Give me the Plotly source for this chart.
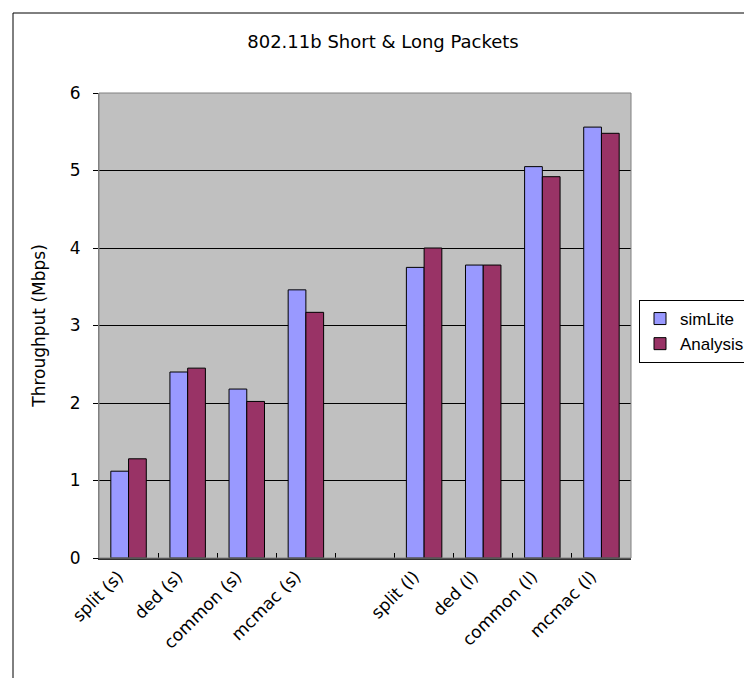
import plotly.graph_objects as go

categories = ["split (s)", "ded (s)", "common (s)", "mcmac (s)", " ",
              "split (l)", "ded (l)", "common (l)", "mcmac (l)"]
simlite = [1.12, 2.40, 2.18, 3.46, None, 3.75, 3.78, 5.05, 5.56]
analysis = [1.28, 2.45, 2.02, 3.17, None, 4.00, 3.78, 4.92, 5.48]
y_ticks = [0, 1, 2, 3, 4, 5, 6]

W, H = 744, 678
L, R, T, B = 99, 631, 93, 558  # plot area in pixels

def px_x(p):
    return (p - L) / (R - L)

def px_y(p):
    return (B - p) / (B - T)

FONT = "DejaVu Sans, Verdana, sans-serif"
LFONT = "Liberation Sans, Arial, sans-serif"

fig = go.Figure()
fig.add_trace(go.Bar(name="simLite", x=categories, y=simlite,
                     marker=dict(color="#9999FF", line=dict(color="black", width=1))))
fig.add_trace(go.Bar(name="Analysis", x=categories, y=analysis,
                     marker=dict(color="#993366", line=dict(color="black", width=1))))

fig.update_layout(
    width=W, height=H,
    margin=dict(l=L, r=W - R, t=T, b=H - B, pad=0, autoexpand=False),
    paper_bgcolor="white",
    plot_bgcolor="#C0C0C0",
    barmode="group",
    bargap=0.4,
    bargroupgap=0,
    font=dict(family=FONT, size=16, color="black"),
    title=dict(text="802.11b Short & Long Packets", x=383 / W, xanchor="center",
               y=1 - 42 / H, yanchor="middle", font=dict(size=18, family=FONT)),
    showlegend=True,
    legend=dict(x=px_x(639), y=px_y(300), xanchor="left", yanchor="top",
                bgcolor="white", bordercolor="black", borderwidth=1,
                font=dict(size=17, family=LFONT), tracegroupgap=0,
                itemwidth=30),
    xaxis=dict(type="category", categoryorder="array", categoryarray=categories,
               tickson="boundaries", ticks="inside", ticklen=5, tickcolor="black",
               tickangle=-45, showgrid=False, showline=True, linecolor="#303030",
               linewidth=2, mirror=False, tickfont=dict(size=17, family=FONT),
               ticklabelshift=-10),
    yaxis=dict(range=[0, 6], tickvals=y_ticks, ticks="outside", ticklen=5,
               tickcolor="black", showgrid=True, gridcolor="black", gridwidth=1,
               showline=True, linecolor="#808080", linewidth=1,
               ticklabelstandoff=9,
               title=dict(text="Throughput (Mbps)", standoff=19,
                          font=dict(size=17, family=FONT)),
               tickfont=dict(size=17, family=FONT), zeroline=False),
)

# plot-area frame (gray) and outer chart border
fig.add_shape(type="rect", xref="paper", yref="paper", x0=0, x1=1, y0=0, y1=1,
              line=dict(color="#808080", width=1), layer="above")
fig.add_shape(type="rect", xref="paper", yref="paper",
              x0=px_x(13), x1=px_x(760), y0=px_y(700), y1=px_y(13),
              line=dict(color="black", width=1), layer="below")

fig.write_html("out.html")
